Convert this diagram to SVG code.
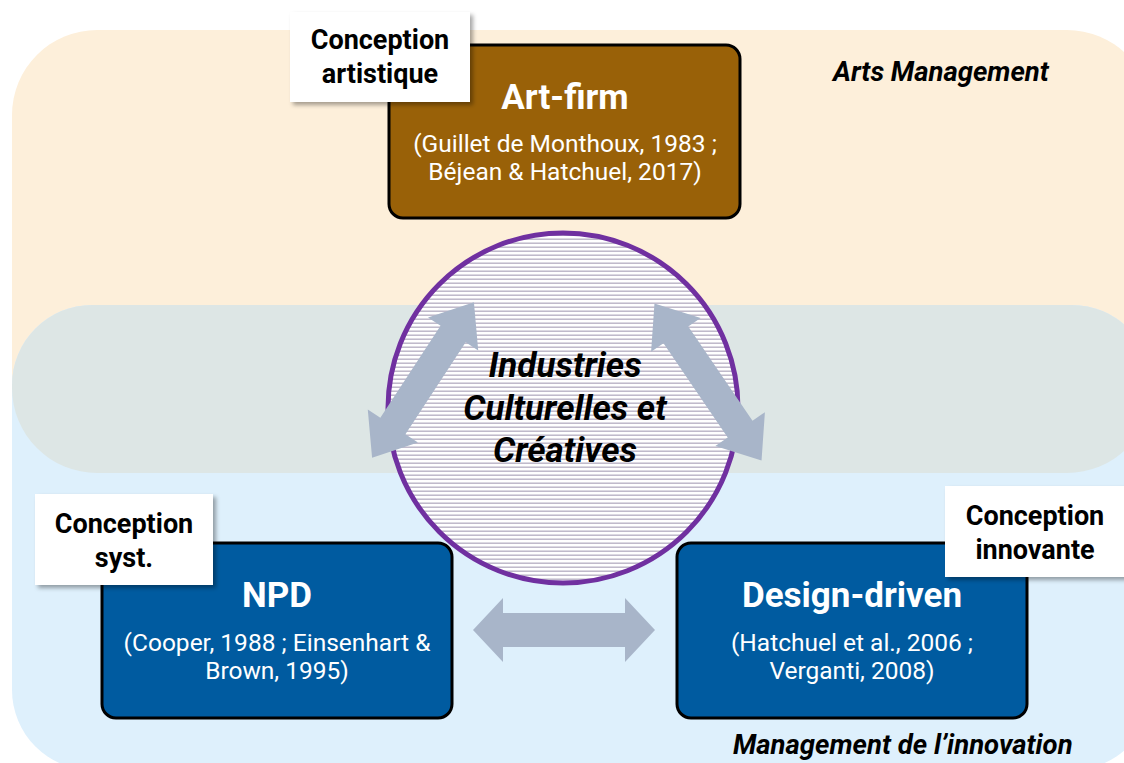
<svg xmlns="http://www.w3.org/2000/svg" width="1124" height="763" viewBox="0 0 1124 763">
<style>
.lbl{font-family:Roboto,"Liberation Sans",sans-serif;font-weight:700;font-size:27px;fill:#000;text-anchor:middle}
.ttl{font-family:Roboto,"Liberation Sans",sans-serif;font-weight:700;font-size:35px;fill:#fff;text-anchor:middle}
.cit{font-family:Roboto,"Liberation Sans",sans-serif;font-size:24.5px;fill:#fff;text-anchor:middle}
.zone{font-family:Roboto,"Liberation Sans",sans-serif;font-weight:700;font-style:italic;font-size:27.5px;fill:#000}
.ctr{font-family:Roboto,"Liberation Sans",sans-serif;font-weight:700;font-style:italic;font-size:35px;fill:#000;text-anchor:middle}
.box{stroke:#000;stroke-width:3}
.tag{fill:#fff;filter:url(#sh)}
.arr{fill:#A8B5C9}
</style>
<defs>
<filter id="sh" x="-10%" y="-10%" width="130%" height="130%">
<feDropShadow dx="3" dy="3" stdDeviation="2" flood-color="#000" flood-opacity="0.35"/>
</filter>
<pattern id="stripes" width="8" height="4" patternUnits="userSpaceOnUse">
<rect width="8" height="4" fill="#fff"/>
<rect y="2.5" width="8" height="1.4" fill="#B9B3C6"/>
</pattern>
<clipPath id="topclip"><rect x="12" y="30" width="1140" height="443" rx="85"/></clipPath>
</defs>
<rect width="1124" height="763" fill="#fff"/>
<g id="bands">
<rect x="12" y="30" width="1140" height="443" rx="85" fill="#FDEFDA"/>
<rect x="12" y="305" width="1140" height="465" rx="80" fill="#DEF0FC"/>
<rect x="12" y="305" width="1140" height="465" rx="80" fill="#DDE6E5" clip-path="url(#topclip)"/>
</g>
<g id="center">
<circle cx="563" cy="408" r="175" fill="url(#stripes)" stroke="#7030A0" stroke-width="5"/>
<text class="ctr" x="565" y="377">Industries</text>
<text class="ctr" x="565" y="420">Culturelles et</text>
<text class="ctr" x="565" y="462">Créatives</text>
</g>
<g id="connectors">
<path class="arr" transform="translate(423,380) rotate(-56.8)" d="M-93,0 L-55,-30 L-55,-15 L55,-15 L55,-30 L93,0 L55,30 L55,15 L-55,15 L-55,30 Z"/>
<path class="arr" transform="translate(708,382) rotate(55.7)" d="M-95,0 L-57,-30 L-57,-15 L57,-15 L57,-30 L95,0 L57,30 L57,15 L-57,15 L-57,30 Z"/>
<path class="arr" transform="translate(564,630)" d="M-91,0 L-61,-32 L-61,-17 L61,-17 L61,-32 L91,0 L61,32 L61,17 L-61,17 L-61,32 Z"/>
</g>
<g id="artfirm">
<rect class="box" x="389" y="45" width="351" height="173" rx="14" fill="#996108"/>
<text class="ttl" x="565" y="109">Art-firm</text>
<text class="cit" x="565" y="152">(Guillet de Monthoux, 1983 ;</text>
<text class="cit" x="565" y="180">Béjean &amp; Hatchuel, 2017)</text>
</g>
<g id="tag-artistique">
<rect class="tag" x="290" y="12" width="180" height="90"/>
<text class="lbl" x="380" y="49">Conception</text>
<text class="lbl" x="380" y="83">artistique</text>
</g>
<g id="npd">
<rect class="box" x="102" y="543" width="350" height="175" rx="14" fill="#005BA0"/>
<text class="ttl" x="277" y="607">NPD</text>
<text class="cit" x="277" y="651">(Cooper, 1988 ; Einsenhart &amp;</text>
<text class="cit" x="277" y="679">Brown, 1995)</text>
</g>
<g id="tag-syst">
<rect class="tag" x="35" y="494" width="178" height="91"/>
<text class="lbl" x="124" y="533">Conception</text>
<text class="lbl" x="124" y="567">syst.</text>
</g>
<g id="designdriven">
<rect class="box" x="677" y="543" width="350" height="175" rx="14" fill="#005BA0"/>
<text class="ttl" x="852" y="607">Design-driven</text>
<text class="cit" x="852" y="651">(Hatchuel et al., 2006 ;</text>
<text class="cit" x="852" y="679">Verganti, 2008)</text>
</g>
<g id="tag-innovante">
<rect class="tag" x="945" y="486" width="182" height="91"/>
<text class="lbl" x="1035" y="525">Conception</text>
<text class="lbl" x="1035" y="559">innovante</text>
</g>
<g id="zones">
<text class="zone" x="833" y="81">Arts Management</text>
<text class="zone" x="733" y="754">Management de l’innovation</text>
</g>
</svg>
